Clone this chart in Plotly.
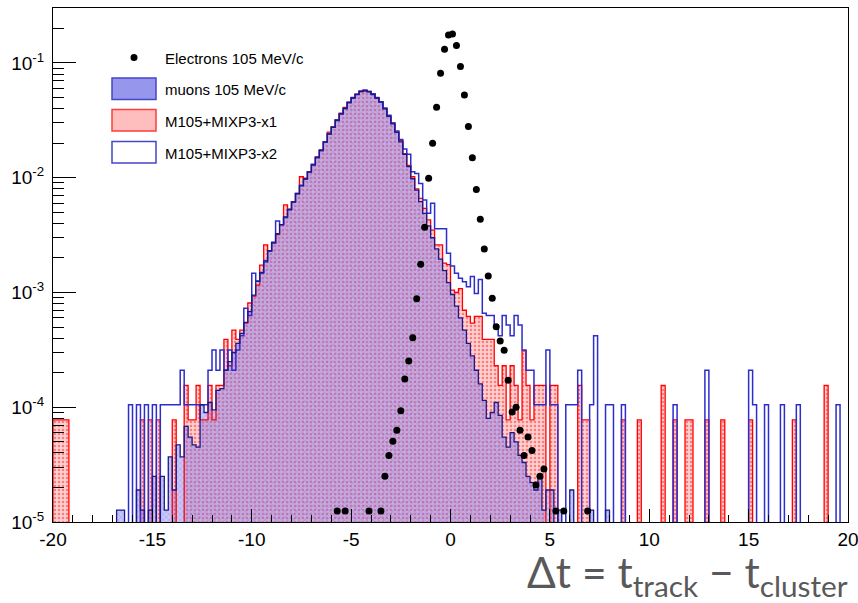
import plotly.graph_objects as go

# ---------------- binning (x axis of the histograms) ----------------
BIN_LO, BIN_HI, NBINS = -20.0, 20.0, 200
BW = (BIN_HI - BIN_LO) / NBINS
centers = [round(BIN_LO + BW * (i + 0.5), 2) for i in range(NBINS)]
edges = [round(BIN_LO + BW * i, 2) for i in range(NBINS + 1)]

# ---------------- data: 200 bins each, rows of 10 bins (2 units) ----------------
muons = [
    0, 0, 0, 0, 0, 0, 0, 0, 0, 0,                                                    # -19.9 .. -18.1
    0, 0, 0, 0, 0, 0, 1.27e-5, 1.27e-5, 0, 0,                                        # -17.9 .. -16.1
    0, 1.9e-5, 1.27e-5, 0, 1.27e-5, 2.5e-5, 0, 2.5e-5, 1.27e-5, 3.7e-5,              # -15.9 .. -14.1
    1.9e-5, 4.7e-5, 3.7e-5, 6.8e-5, 5.5e-5, 4.7e-5, 4.5e-5, 1.05e-4, 9.0e-5, 1.1e-4,  # -13.9 .. -12.1
    9.5e-5, 1.4e-4, 1.45e-4, 2.1e-4, 2.5e-4, 3.0e-4, 3.6e-4, 4.4e-4, 5.5e-4, 6.8e-4,  # -11.9 .. -10.1
    9.5e-4, 1.25e-3, 1.5e-3, 1.85e-3, 2.3e-3, 2.75e-3, 3.25e-3, 3.9e-3, 4.55e-3, 5.25e-3,  # -9.9 .. -8.1
    6.15e-3, 7.25e-3, 8.5e-3, 9.8e-3, 1.12e-2, 1.29e-2, 1.5e-2, 1.74e-2, 2.04e-2, 2.4e-2,  # -7.9 .. -6.1
    2.75e-2, 3.15e-2, 3.6e-2, 4.03e-2, 4.5e-2, 4.95e-2, 5.3e-2, 5.65e-2, 5.75e-2, 5.6e-2,  # -5.9 .. -4.1
    5.3e-2, 4.95e-2, 4.55e-2, 3.98e-2, 3.43e-2, 2.95e-2, 2.48e-2, 2.05e-2, 1.6e-2, 1.25e-2,  # -3.9 .. -2.1
    9.8e-3, 7.8e-3, 6.2e-3, 4.9e-3, 3.8e-3, 3.0e-3, 2.4e-3, 1.95e-3, 1.55e-3, 1.22e-3,  # -1.9 .. -0.1
    9.6e-4, 7.6e-4, 6.0e-4, 4.7e-4, 3.6e-4, 2.8e-4, 2.1e-4, 1.6e-4, 1.15e-4, 8.0e-5,  # 0.1 .. 1.9
    9.0e-5, 1.1e-4, 8.5e-5, 5.5e-5, 4.5e-5, 6.0e-5, 5.0e-5, 3.8e-5, 3.3e-5, 2.5e-5,   # 2.1 .. 3.9
    2.2e-5, 1.9e-5, 2.5e-5, 1.27e-5, 1.9e-5, 1.9e-5, 0, 1.27e-5, 0, 0,                # 4.1 .. 5.9
    1.9e-5, 0, 0, 0, 0, 1.27e-5, 0, 0, 0, 1.27e-5,                                    # 6.1 .. 7.9
    0, 0, 0, 0, 0, 0, 0, 0, 0, 0,                                                    # 8.1 .. 9.9
    0, 0, 0, 0, 0, 0, 0, 0, 0, 0,                                                    # 10.1 .. 11.9
    0, 0, 0, 0, 0, 0, 0, 0, 0, 0,                                                    # 12.1 .. 13.9
    0, 0, 0, 0, 0, 0, 0, 0, 0, 0,                                                    # 14.1 .. 15.9
    0, 0, 0, 0, 0, 0, 0, 0, 0, 0,                                                    # 16.1 .. 17.9
    0, 0, 0, 0, 0, 0, 0, 0, 0, 0,                                                    # 18.1 .. 19.9
]

mixp3_x1 = [
    7.75e-5, 7.75e-5, 7.75e-5, 7.75e-5, 0, 0, 0, 0, 0, 0,                            # -19.9 .. -18.1
    0, 0, 0, 0, 0, 0, 0, 0, 0, 0,                                                    # -17.9 .. -16.1
    0, 0, 7.75e-5, 0, 7.75e-5, 0, 7.75e-5, 0, 0, 0,                                  # -15.9 .. -14.1
    7.75e-5, 0, 0, 1.55e-4, 7.75e-5, 7.75e-5, 1.55e-4, 7.75e-5, 7.75e-5, 1.55e-4,     # -13.9 .. -12.1
    7.75e-5, 1.55e-4, 1.55e-4, 3.9e-4, 2.3e-4, 4.7e-4, 3.9e-4, 4.7e-4, 5.4e-4, 8.1e-4,  # -11.9 .. -10.1
    9.3e-4, 1.16e-3, 1.73e-3, 2.6e-3, 2.3e-3, 2.7e-3, 3.2e-3, 3.9e-3, 5.8e-3, 5.3e-3,  # -9.9 .. -8.1
    6.2e-3, 7.3e-3, 1.02e-2, 9.9e-3, 1.13e-2, 1.3e-2, 1.52e-2, 1.75e-2, 2.06e-2, 2.5e-2,  # -7.9 .. -6.1
    2.78e-2, 3.2e-2, 3.65e-2, 4.1e-2, 4.55e-2, 4.95e-2, 5.35e-2, 5.6e-2, 5.7e-2, 5.65e-2,  # -5.9 .. -4.1
    5.4e-2, 5.0e-2, 4.6e-2, 4.0e-2, 3.45e-2, 3.0e-2, 2.5e-2, 2.1e-2, 1.62e-2, 1.28e-2,  # -3.9 .. -2.1
    1.02e-2, 8.0e-3, 6.6e-3, 5.4e-3, 4.3e-3, 3.5e-3, 2.6e-3, 2.6e-3, 1.8e-3, 1.75e-3,  # -1.9 .. -0.1
    1.05e-3, 1.0e-3, 1.08e-3, 7.0e-4, 6.2e-4, 5.4e-4, 6.2e-4, 6.2e-4, 3.9e-4, 3.9e-4,  # 0.1 .. 1.9
    3.9e-4, 2.3e-4, 1.55e-4, 2.3e-4, 7.75e-5, 2.3e-4, 1.55e-4, 7.75e-5, 3.1e-4, 1.55e-4,  # 2.1 .. 3.9
    7.75e-5, 1.55e-4, 1.55e-4, 1.55e-4, 0, 1.55e-4, 1.55e-4, 0, 0, 0,                 # 4.1 .. 5.9
    0, 0, 1.55e-4, 7.75e-5, 7.75e-5, 0, 0, 0, 0, 0,                                  # 6.1 .. 7.9
    0, 0, 0, 7.75e-5, 0, 0, 0, 7.75e-5, 0, 0,                                        # 8.1 .. 9.9
    0, 0, 0, 1.55e-4, 0, 0, 7.75e-5, 0, 0, 7.75e-5,                                  # 10.1 .. 11.9
    7.75e-5, 0, 0, 0, 7.75e-5, 0, 0, 0, 7.75e-5, 0,                                  # 12.1 .. 13.9
    0, 0, 0, 0, 0, 7.75e-5, 0, 0, 0, 0,                                              # 14.1 .. 15.9
    0, 0, 0, 0, 0, 0, 7.75e-5, 0, 0, 0,                                              # 16.1 .. 17.9
    0, 0, 0, 0, 1.55e-4, 0, 0, 0, 0, 0,                                              # 18.1 .. 19.9
]

mixp3_x2 = [
    0, 0, 0, 0, 0, 0, 0, 0, 0, 0,                                                    # -19.9 .. -18.1
    0, 0, 0, 0, 0, 0, 0, 0, 0, 1.05e-4,                                              # -17.9 .. -16.1
    0, 1.05e-4, 0, 1.05e-4, 0, 1.05e-4, 0, 1.05e-4, 1.05e-4, 1.05e-4,                # -15.9 .. -14.1
    1.05e-4, 1.05e-4, 2.1e-4, 1.05e-4, 1.05e-4, 1.05e-4, 1.05e-4, 1.05e-4, 1.05e-4, 2.1e-4,  # -13.9 .. -12.1
    3.15e-4, 2.1e-4, 3.15e-4, 2.1e-4, 3.15e-4, 2.1e-4, 3.15e-4, 4.2e-4, 7.3e-4, 6.3e-4,  # -11.9 .. -10.1
    1.47e-3, 1.26e-3, 1.47e-3, 1.9e-3, 2.3e-3, 2.7e-3, 4.2e-3, 3.9e-3, 4.5e-3, 5.3e-3,  # -9.9 .. -8.1
    6.1e-3, 7.3e-3, 8.6e-3, 9.7e-3, 1.13e-2, 1.31e-2, 1.5e-2, 1.72e-2, 2.05e-2, 2.42e-2,  # -7.9 .. -6.1
    2.75e-2, 3.2e-2, 3.6e-2, 4.0e-2, 4.55e-2, 5.0e-2, 5.35e-2, 5.7e-2, 5.8e-2, 5.65e-2,  # -5.9 .. -4.1
    5.4e-2, 4.95e-2, 4.6e-2, 4.05e-2, 3.5e-2, 3.0e-2, 2.55e-2, 2.15e-2, 1.78e-2, 1.6e-2,  # -3.9 .. -2.1
    1.13e-2, 1.09e-2, 8.9e-3, 6.4e-3, 4.9e-3, 6.0e-3, 3.6e-3, 3.6e-3, 3.6e-3, 2.2e-3,  # -1.9 .. -0.1
    1.7e-3, 1.47e-3, 1.33e-3, 1.24e-3, 1.12e-3, 1.38e-3, 9.8e-4, 1.3e-3, 6.6e-4, 6.3e-4,  # 0.1 .. 1.9
    6.3e-4, 5.2e-4, 4.2e-4, 6.3e-4, 5.2e-4, 4.2e-4, 6.3e-4, 5.2e-4, 3.15e-4, 2.1e-4,  # 2.1 .. 3.9
    2.1e-4, 1.05e-4, 1.05e-4, 1.05e-4, 3.15e-4, 1.05e-4, 1.05e-4, 0, 0, 1.05e-4,      # 4.1 .. 5.9
    1.05e-4, 1.05e-4, 2.1e-4, 0, 0, 1.05e-4, 4.2e-4, 0, 0, 1.05e-4,                  # 6.1 .. 7.9
    1.05e-4, 0, 0, 1.05e-4, 0, 0, 0, 0, 0, 0,                                        # 8.1 .. 9.9
    0, 0, 0, 0, 0, 0, 1.05e-4, 0, 0, 0,                                              # 10.1 .. 11.9
    0, 0, 0, 0, 2.1e-4, 0, 0, 0, 0, 0,                                               # 12.1 .. 13.9
    0, 0, 0, 0, 0, 2.1e-4, 1.05e-4, 0, 0, 1.05e-4,                                   # 14.1 .. 15.9
    0, 0, 0, 1.05e-4, 0, 0, 0, 1.05e-4, 0, 0,                                        # 16.1 .. 17.9
    0, 0, 0, 0, 0, 0, 0, 1.05e-4, 0, 0,                                              # 18.1 .. 19.9
]

electron_x = [-5.7, -5.3, -4.1, -3.5, -3.3, -3.1, -2.9, -2.7, -2.5, -2.3, -2.1, -1.9, -1.7,
              -1.5, -1.3, -1.1, -0.9, -0.7, -0.5, -0.3, -0.1, 0.1, 0.3, 0.5, 0.7, 0.9, 1.1,
              1.3, 1.5, 1.7, 1.9, 2.1, 2.3, 2.5, 2.7, 2.9, 3.1, 3.3, 3.5, 3.7, 3.9, 4.1,
              4.3, 4.5, 4.7, 5.3, 5.7, 6.9]
electron_y = [1.25e-5, 1.25e-5, 1.25e-5, 1.25e-5, 2.5e-5, 3.8e-5, 5.05e-5, 6.3e-5, 9.3e-5,
              1.76e-4, 2.53e-4, 4.04e-4, 8.8e-4, 1.76e-3, 3.7e-3, 9.9e-3, 2.0e-2, 4.11e-2,
              8.14e-2, 1.32e-1, 1.75e-1, 1.79e-1, 1.42e-1, 9.3e-2, 5.26e-2, 2.79e-2, 1.49e-2,
              7.9e-3, 4.35e-3, 2.39e-3, 1.39e-3, 8.9e-4, 5.03e-4, 3.78e-4, 3.13e-4, 1.72e-4,
              9.1e-5, 1.0e-4, 6.3e-5, 3.8e-5, 5.5e-5, 4.2e-5, 2.1e-5, 2.5e-5, 2.9e-5,
              1.25e-5, 1.25e-5, 1.25e-5]

x_tick_vals = [-20, -15, -10, -5, 0, 5, 10, 15, 20]
x_tick_text = ["-20", "-15", "-10", "-5", "0", "5", "10", "15", "20"]
y_tick_vals = [1e-5, 1e-4, 1e-3, 1e-2, 1e-1]
y_tick_text = ["10<sup>-5</sup>", "10<sup>-4</sup>", "10<sup>-3</sup>", "10<sup>-2</sup>", "10<sup>-1</sup>"]

legend_labels = ["Electrons 105 MeV/c", "muons 105 MeV/c", "M105+MIXP3-x1", "M105+MIXP3-x2"]

# ---------------- styling ----------------
RED = "rgb(255,0,0)"
NAVY = "rgb(25,25,140)"
BLUE2 = "rgb(45,45,205)"
FLOOR = 1e-9  # below the visible range: step outlines drop to the axis


def step_xy(vals):
    xs = [edges[0]] + edges
    ys = [FLOOR] + [v if v > 0 else FLOOR for v in vals] + [FLOOR]
    return xs, ys


def bar_y(vals):
    return [v if v > 0 else None for v in vals]


fig = go.Figure()

# filled histograms
fig.add_trace(go.Bar(
    x=centers, y=bar_y(mixp3_x1), width=BW, name=legend_labels[2],
    marker=dict(line=dict(width=0),
                pattern=dict(shape=".", fgcolor="rgb(255,40,40)", bgcolor="rgb(255,208,208)",
                             size=4, solidity=0.35)),
))
fig.add_trace(go.Bar(
    x=centers, y=bar_y(muons), width=BW, name=legend_labels[1],
    marker=dict(line=dict(width=0),
                pattern=dict(shape="x", fgcolor="rgba(70,70,230,0.5)",
                             bgcolor="rgba(125,125,240,0.42)", size=4, solidity=0.3)),
))

# outlines
for vals, col, w in [(mixp3_x1, RED, 1.3), (mixp3_x2, BLUE2, 1.5), (muons, NAVY, 1.3)]:
    sx, sy = step_xy(vals)
    fig.add_trace(go.Scatter(x=sx, y=sy, mode="lines", line=dict(color=col, width=w, shape="hv"),
                             hoverinfo="skip"))

# electrons
fig.add_trace(go.Scatter(x=electron_x, y=electron_y, mode="markers", name=legend_labels[0],
                         marker=dict(color="black", size=7)))

# ---------------- axes ----------------
fig.update_xaxes(
    range=[-20, 20], tickmode="array", tickvals=x_tick_vals, ticktext=x_tick_text,
    ticks="inside", ticklen=13, tickwidth=1, tickcolor="black",
    ticklabeloverflow="allow", automargin=False,
    minor=dict(tickmode="array", tickvals=list(range(-19, 20)), ticks="inside", ticklen=7,
               tickwidth=1, tickcolor="black", showgrid=False),
    showline=True, linecolor="black", linewidth=1, mirror=True,
    showgrid=False, zeroline=False,
    tickfont=dict(family="Liberation Sans, Arial", size=19, color="black"),
)
minor_y = [m * 10.0 ** e for e in range(-5, 0) for m in range(2, 10)]
fig.update_yaxes(
    type="log", range=[-5, -0.521], tickmode="array", tickvals=y_tick_vals, ticktext=y_tick_text,
    ticks="inside", ticklen=23, tickwidth=1, tickcolor="black", automargin=False,
    minor=dict(tickmode="array", tickvals=minor_y, ticks="inside", ticklen=11,
               tickwidth=1, tickcolor="black", showgrid=False),
    showline=True, linecolor="black", linewidth=1, mirror=True,
    showgrid=False, zeroline=False, ticklabelstandoff=4,
    tickfont=dict(family="Liberation Sans, Arial", size=19, color="black"),
)

# ---------------- layout ----------------
L, R, T, B = 53, 10, 8, 81
W, H = 858, 603
PW, PH = W - L - R, H - T - B


def px(xp):
    return (xp - L) / PW


def py(yp):
    return (H - B - yp) / PH


shapes = []
annotations = []
# legend: electrons marker
shapes.append(dict(type="circle", xref="paper", yref="paper",
                   x0=px(130.5), x1=px(137.5), y0=py(61), y1=py(54),
                   fillcolor="black", line=dict(color="black", width=0)))
# legend boxes
box_rows = [(78, 99.5), (109.5, 131), (141.5, 163)]
box_fill = ["rgb(150,150,236)", "rgb(255,190,190)", "white"]
box_line = ["rgb(70,70,200)", "rgb(255,60,60)", "rgb(70,70,200)"]
for (y0, y1), fc, lc in zip(box_rows, box_fill, box_line):
    shapes.append(dict(type="rect", xref="paper", yref="paper",
                       x0=px(112), x1=px(156), y0=py(y1), y1=py(y0),
                       fillcolor=fc, line=dict(color=lc, width=1.5)))
text_rows = [58.5, 89.5, 121, 153]
for lab, yc in zip(legend_labels, text_rows):
    annotations.append(dict(text=lab, xref="paper", yref="paper", x=px(163), y=py(yc),
                            xanchor="left", yanchor="middle", showarrow=False,
                            font=dict(family="Liberation Sans, Arial", size=15, color="black")))
# axis title written on the slide
annotations.append(dict(text="Δt = t<sub>track</sub> − t<sub>cluster</sub>",
                        xref="paper", yref="paper", x=px(850), y=py(574),
                        xanchor="right", yanchor="middle", showarrow=False,
                        font=dict(family="Lato, Open Sans", size=42.5, color="rgb(89,89,89)")))

fig.update_layout(
    width=W, height=H, margin=dict(l=L, r=R, t=T, b=B, autoexpand=False),
    plot_bgcolor="white", paper_bgcolor="white",
    barmode="overlay", bargap=0, showlegend=False,
    shapes=shapes, annotations=annotations,
)

fig.write_html("out.html")
